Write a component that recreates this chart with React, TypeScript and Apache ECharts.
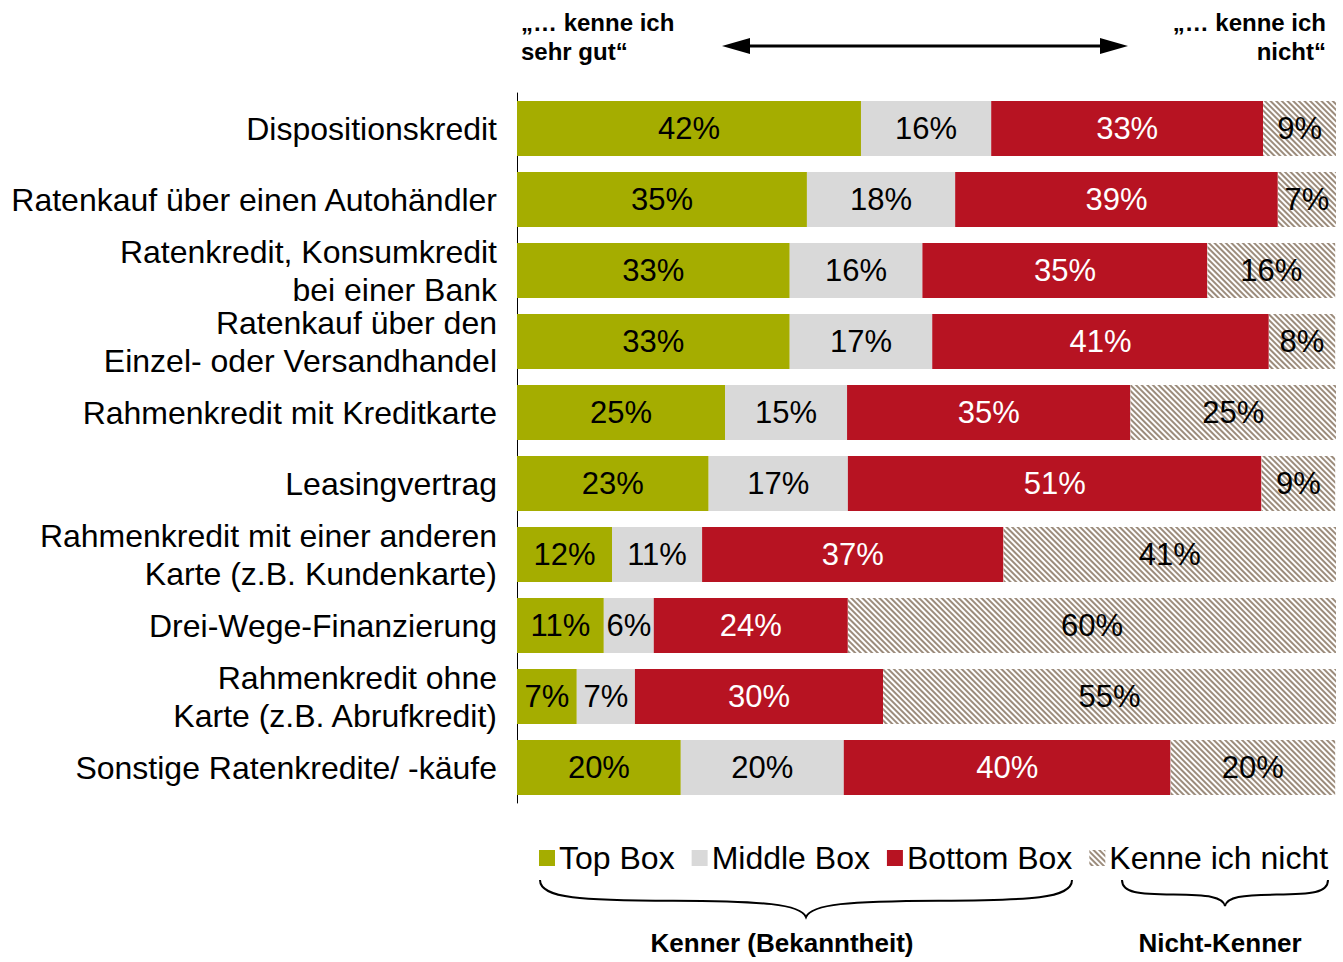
import React, { useEffect, useRef } from "react";
import * as echarts from "echarts";

const categories = [
  "Dispositionskredit",
  "Ratenkauf über einen Autohändler",
  "Ratenkredit, Konsumkredit\nbei einer Bank",
  "Ratenkauf über den\nEinzel- oder Versandhandel",
  "Rahmenkredit mit Kreditkarte",
  "Leasingvertrag",
  "Rahmenkredit mit einer anderen\nKarte (z.B. Kundenkarte)",
  "Drei-Wege-Finanzierung",
  "Rahmenkredit ohne\nKarte (z.B. Abrufkredit)",
  "Sonstige Ratenkredite/ -käufe",
];
const topBox = [42.0, 35.4, 33.3, 33.3, 25.4, 23.4, 11.6, 10.6, 7.3, 20.0];
const middleBox = [15.9, 18.1, 16.2, 17.4, 14.9, 17.0, 11.0, 6.1, 7.1, 19.9];
const bottomBox = [33.2, 39.4, 34.8, 41.1, 34.6, 50.5, 36.8, 23.7, 30.3, 39.9];
const unknown = [8.9, 7.1, 15.6, 8.1, 25.2, 9.0, 40.7, 59.6, 55.3, 20.1];
const seriesNames = ["Top Box", "Middle Box", "Bottom Box", "Kenne ich nicht"];

const FONT = "'Liberation Sans', Arial, sans-serif";

function braceD(x0: number, x1: number, y0: number, y1: number) {
  const W = x1 - x0;
  const H = y1 - y0;
  const X = (f: number) => (x0 + W * f).toFixed(1);
  const Y = (f: number) => (y0 + H * f).toFixed(1);
  return (
    `M${X(0)} ${Y(0)} C${X(0)} ${Y(0.5)} ${X(0.08)} ${Y(0.55)} ${X(0.25)} ${Y(0.56)} ` +
    `C${X(0.42)} ${Y(0.57)} ${X(0.49)} ${Y(0.65)} ${X(0.5)} ${Y(1)} ` +
    `C${X(0.51)} ${Y(0.65)} ${X(0.58)} ${Y(0.57)} ${X(0.75)} ${Y(0.56)} ` +
    `C${X(0.92)} ${Y(0.55)} ${X(1)} ${Y(0.5)} ${X(1)} ${Y(0)}`
  );
}

echarts.graphic.registerShape("brace1", echarts.graphic.extendPath(braceD(540, 1072, 880, 917), {}));
echarts.graphic.registerShape("brace2", echarts.graphic.extendPath(braceD(1122, 1328, 880, 906), {}));

export default function App() {
  const ref = useRef<HTMLDivElement>(null);
  useEffect(() => {
    if (!ref.current) return;
    const chart = echarts.init(ref.current, null, { renderer: "svg" });
    const hatchDecal = {
      symbol: "rect",
      symbolSize: 1,
      color: "#9c8c7c",
      dashArrayX: [1, 0],
      dashArrayY: [1.4, 1.8],
      rotation: Math.PI / 4,
    };
    const mk = (name: string, data: number[], color: string, labelColor: string, decal?: any) => ({
      name,
      type: "bar",
      stack: "all",
      data,
      barWidth: 55,
      itemStyle: decal ? { color, decal } : { color },
      label: {
        show: true,
        position: "inside",
        color: labelColor,
        fontSize: 31,
        fontFamily: FONT,
        formatter: (p: any) => Math.round(p.value) + "%",
      },
    });
    chart.setOption({
      animation: false,
      aria: { enabled: false },
      grid: { left: 517, right: 7, top: 93, bottom: 159, containLabel: false },
      xAxis: { type: "value", min: 0, max: 100, show: false },
      yAxis: {
        type: "category",
        data: categories,
        inverse: true,
        axisLine: { show: true, lineStyle: { color: "#000", width: 1 } },
        axisTick: { show: false },
        axisLabel: {
          color: "#000",
          fontSize: 32,
          fontFamily: FONT,
          lineHeight: 38,
          margin: 20,
          align: "right",
        },
      },
      legend: {
        left: 534,
        top: 837,
        width: 809,
        itemWidth: 16,
        itemHeight: 16,
        itemGap: 17,
        icon: "rect",
        textStyle: { fontSize: 32, fontFamily: FONT, color: "#000", padding: [0, 0, 0, -1] },
        data: seriesNames,
      },
      series: [
        mk(seriesNames[0], topBox, "#a5ad00", "#000"),
        mk(seriesNames[1], middleBox, "#d9d9d9", "#000"),
        mk(seriesNames[2], bottomBox, "#b71322", "#fff"),
        mk(seriesNames[3], unknown, "#ffffff", "#000", hatchDecal),
      ],
      graphic: [
        { type: "text", x: 521, y: 8, style: { text: "„… kenne ich\nsehr gut“", font: `bold 24px ${FONT}`, fill: "#000", lineHeight: 29 } },
        { type: "text", x: 1326, y: 8, style: { text: "„… kenne ich\nnicht“", font: `bold 24px ${FONT}`, fill: "#000", lineHeight: 29, align: "right" } },
        { type: "line", shape: { x1: 740, y1: 46, x2: 1110, y2: 46 }, style: { stroke: "#000", lineWidth: 3 } },
        { type: "polygon", shape: { points: [[722, 46], [750, 38], [750, 54]] }, style: { fill: "#000" } },
        { type: "polygon", shape: { points: [[1128, 46], [1100, 38], [1100, 54]] }, style: { fill: "#000" } },
        { type: "brace1", style: { fill: "none", stroke: "#000", lineWidth: 2 } },
        { type: "brace2", style: { fill: "none", stroke: "#000", lineWidth: 2 } },
        { type: "text", x: 782, y: 943, style: { text: "Kenner (Bekanntheit)", font: `bold 26px ${FONT}`, fill: "#000", align: "center", verticalAlign: "middle" } },
        { type: "text", x: 1220, y: 943, style: { text: "Nicht-Kenner", font: `bold 26px ${FONT}`, fill: "#000", align: "center", verticalAlign: "middle" } },
      ],
    });
    return () => chart.dispose();
  }, []);
  return (
    <div
      ref={ref}
      style={{ position: "absolute", left: 0, top: 0, width: 1343, height: 962, background: "#fff" }}
    />
  );
}
